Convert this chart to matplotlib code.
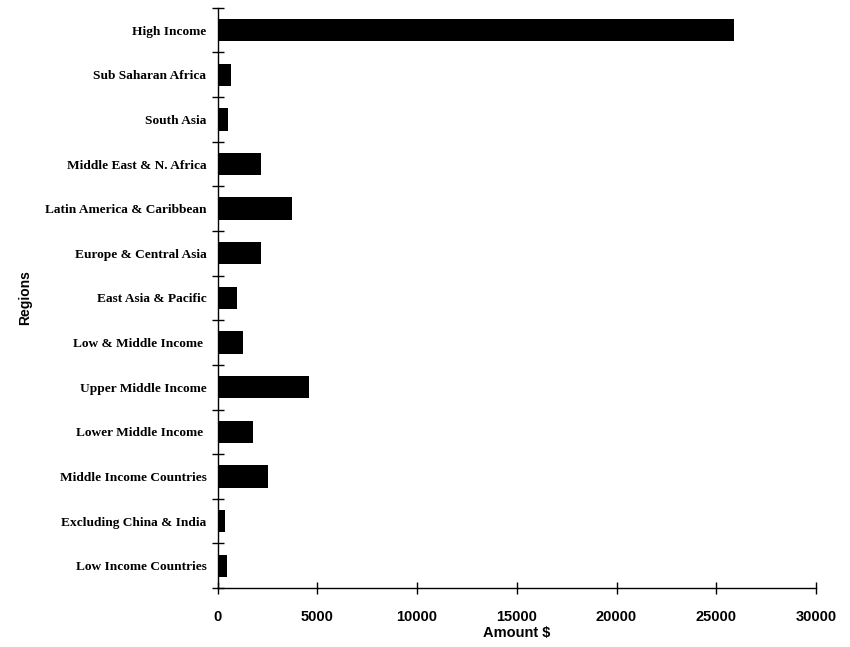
import numpy as np
import matplotlib.pyplot as plt

# regions listed bottom to top, the way barh stacks them
regions = [
    "Low Income Countries",
    "Excluding China & India",
    "Middle Income Countries",
    "Lower Middle Income ",
    "Upper Middle Income",
    "Low & Middle Income ",
    "East Asia & Pacific",
    "Europe & Central Asia",
    "Latin America & Caribbean",
    "Middle East & N. Africa",
    "South Asia",
    "Sub Saharan Africa",
    "High Income",
]
amounts = [450, 350, 2550, 1750, 4600, 1250, 950, 2200, 3750, 2200, 500, 650, 25900]

x_ticks = [0, 5000, 10000, 15000, 20000, 25000, 30000]

fig = plt.figure(figsize=(8.5, 6.47), dpi=100)
ax = fig.add_axes([0.256, 0.091, 0.704, 0.897])

pos = np.arange(len(regions))
ax.barh(pos, amounts, height=0.5, color="black")

ax.set_xlim(0, 30000)
ax.set_ylim(-0.5, len(regions) - 0.5)

for side in ("top", "right"):
    ax.spines[side].set_visible(False)
ax.spines["left"].set_linewidth(1.0)
ax.spines["bottom"].set_linewidth(1.0)

# category names sit between the boundary ticks
ax.set_yticks(pos)
ax.set_yticklabels(regions, fontfamily="Liberation Serif", fontweight="bold", fontsize=9.6)
ax.tick_params(axis="y", which="major", length=0, pad=8)
ax.set_yticks(np.arange(len(regions) + 1) - 0.5, minor=True)
ax.tick_params(axis="y", which="minor", direction="inout", length=9, width=1)

ax.set_xticks(x_ticks)
ax.set_xticklabels([str(t) for t in x_ticks], fontfamily="Liberation Sans",
                   fontweight="bold", fontsize=10.5)
ax.tick_params(axis="x", direction="inout", length=9, width=1, pad=11)

ax.set_xlabel("Amount $", fontfamily="Liberation Sans", fontweight="bold", fontsize=10.5,
              labelpad=2)
ax.set_ylabel("Regions", fontfamily="Liberation Sans", fontweight="bold", fontsize=10,
              labelpad=9)

fig.savefig("out.png", dpi=100)
